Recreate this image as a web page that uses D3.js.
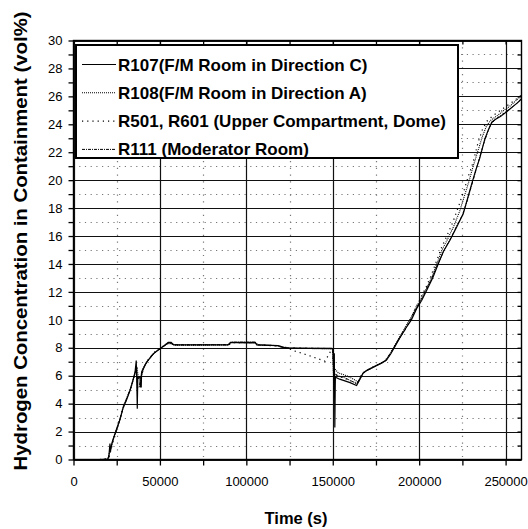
<!DOCTYPE html>
<html>
<head>
<meta charset="utf-8">
<script src="https://cdn.jsdelivr.net/npm/d3@7"></script>
<style>
  body { margin: 0; background: #fff; }
  svg { display: block; font-family: "Liberation Sans", Arial, sans-serif; }
</style>
</head>
<body>
<div class="canvas"></div>
<script>
// Series: [time (s), H2 concentration (vol%)]
const r107 = [
  [13400, 0], [19800, 0], [20500, 0.3], [21100, 1.15], [21400, 0.6], [22500, 1.3], [25000, 2.2],
  [27000, 2.9], [28800, 3.75], [30500, 4.2], [32700, 4.94], [34000, 5.5], [35600, 6.25], [36300, 7.09],
  [36600, 5.6], [36900, 3.63], [37200, 5.9], [38500, 5.9], [38600, 5.2], [39200, 5.2], [39400, 6.25],
  [42300, 6.97], [46200, 7.57], [50000, 7.93], [53000, 8.2], [54800, 8.38], [56500, 8.38], [58000, 8.2],
  [89500, 8.2], [90800, 8.38], [105200, 8.38], [106000, 8.2], [118300, 8.16], [120500, 8.05], [124000, 7.97],
  [149500, 7.95], [150300, 7.9], [150600, 6.0], [150900, 7.6], [151200, 2.3], [151500, 5.9], [154000, 5.75],
  [160000, 5.5], [163800, 5.3], [165500, 5.7], [167600, 6.2], [170000, 6.4], [174000, 6.65], [178000, 6.9],
  [181000, 7.1], [183500, 7.55], [186000, 8.1], [189000, 8.75], [192500, 9.45], [195500, 10.0], [198500, 10.8],
  [201500, 11.4], [204300, 12.1], [208000, 13.05], [211000, 14.0], [214000, 14.9], [217800, 15.7], [221500, 16.6],
  [225500, 17.6], [228000, 18.7], [230300, 19.7], [232700, 20.7], [235100, 21.6], [238000, 22.95], [240000, 23.6],
  [242000, 24.15], [244000, 24.35], [247000, 24.55], [250600, 24.9], [254000, 25.25], [257000, 25.55], [259200, 25.83],
];

const r108 = [
  [14500, 0], [20000, 0.05], [22000, 1.0], [24000, 1.9], [26500, 2.7], [29000, 3.9], [31000, 4.4],
  [33500, 5.3], [35500, 6.1], [36800, 6.5], [37600, 5.8], [38600, 5.8], [39800, 6.4], [42000, 6.9],
  [46000, 7.55], [50000, 7.95], [54000, 8.3], [57000, 8.3], [59000, 8.18], [89000, 8.2], [91000, 8.35],
  [106000, 8.3], [107000, 8.2], [118000, 8.15], [121000, 8.0], [150000, 7.9], [150700, 4.9], [151100, 6.5],
  [153200, 6.2], [158000, 6.0], [162000, 5.75], [164700, 5.55], [167600, 6.2], [170000, 6.4], [174000, 6.65],
  [178000, 6.9], [181000, 7.15], [183500, 7.6], [186000, 8.2], [189000, 8.85], [192000, 9.5], [195000, 10.1],
  [198000, 10.85], [201000, 11.5], [204000, 12.2], [207500, 13.1], [210500, 14.1], [213000, 14.95], [216500, 15.8],
  [220000, 16.7], [223500, 17.8], [226500, 19.0], [229000, 20.0], [231000, 20.9], [233500, 21.9], [236500, 23.1],
  [239000, 23.9], [241500, 24.3], [245000, 24.6], [249000, 25.0], [253000, 25.35], [256000, 25.7], [259200, 26.05],
];

const r501 = [
  [15000, 0], [20500, 0.1], [22500, 1.1], [25500, 2.3], [28000, 3.4], [30000, 4.1], [32000, 4.7],
  [34500, 5.7], [36000, 6.4], [37500, 5.9], [39000, 5.9], [40500, 6.6], [43500, 7.2], [47000, 7.7],
  [51000, 8.0], [55000, 8.35], [58500, 8.2], [90000, 8.22], [92000, 8.36], [105500, 8.36], [107500, 8.2],
  [119000, 8.12], [124000, 8.0], [127100, 7.8], [134900, 7.5], [145500, 7.04], [149000, 7.8], [150200, 7.9],
  [151000, 6.3], [152500, 6.0], [156000, 5.85], [160000, 5.65], [164200, 5.4], [166000, 5.95], [168500, 6.3],
  [173000, 6.6], [178500, 6.92], [182000, 7.3], [185000, 7.95], [188000, 8.55], [191500, 9.3], [194500, 9.9],
  [198000, 10.85], [201000, 11.6], [204000, 12.35], [207000, 13.2], [210000, 14.2], [213000, 15.2], [216000, 16.0],
  [219500, 17.0], [223000, 18.2], [226000, 19.3], [228500, 20.3], [231000, 21.2], [234100, 22.7], [236500, 23.6],
  [239000, 24.2], [242500, 24.6], [246500, 24.95], [250500, 25.3], [254500, 25.65], [259200, 26.1],
];

const r111 = [
  [14000, 0], [20000, 0], [21500, 0.9], [23500, 1.6], [26000, 2.5], [28500, 3.6], [31000, 4.5],
  [33500, 5.2], [35000, 5.9], [36500, 6.6], [37000, 5.1], [38000, 5.2], [39000, 5.8], [41000, 6.7],
  [44500, 7.3], [48500, 7.8], [52000, 8.1], [55500, 8.35], [58000, 8.22], [89500, 8.22], [91500, 8.4],
  [105000, 8.4], [106500, 8.22], [118500, 8.15], [123000, 8.0], [149800, 7.95], [150800, 5.0], [151600, 6.1],
  [153000, 6.0], [157000, 5.85], [161000, 5.6], [164000, 5.45], [166500, 6.0], [169000, 6.3], [175000, 6.7],
  [180000, 7.0], [184000, 7.75], [187500, 8.45], [191000, 9.1], [194000, 9.75], [197500, 10.6], [200500, 11.3],
  [203500, 12.0], [207000, 12.9], [210500, 13.9], [214500, 15.0], [218500, 15.9], [222000, 16.8], [225000, 17.5],
  [228000, 18.6], [231000, 19.9], [234000, 21.2], [237000, 22.5], [239500, 23.4], [241500, 24.0], [244500, 24.4],
  [248500, 24.75], [252500, 25.1], [256000, 25.45], [259200, 25.8],
];

const seriesNames = [
  "R107(F/M Room in Direction C)",
  "R108(F/M Room in Direction A)",
  "R501, R601 (Upper Compartment, Dome)",
  "R111 (Moderator Room)",
];

// Tick values
const xMajor = [0, 50000, 100000, 150000, 200000, 250000];
const xMinor = [25000, 75000, 125000, 175000, 225000];
const yMajor = [0, 2, 4, 6, 8, 10, 12, 14, 16, 18, 20, 22, 24, 26, 28, 30];
const yMinor = [1, 3, 5, 7, 9, 11, 13, 15, 17, 19, 21, 23, 25, 27, 29];
const xMax = 259200;

const dims = { width: 528, height: 529 };
const plot = { left: 73.5, right: 521.5, top: 40.5, bottom: 459.5 };

const svg = d3
  .select(".canvas")
  .append("svg")
  .attr("width", dims.width)
  .attr("height", dims.height);

svg.append("rect").attr("width", dims.width).attr("height", dims.height).attr("fill", "#fff");

const x = d3.scaleLinear().domain([0, xMax]).range([plot.left, plot.right]);
const y = d3.scaleLinear().domain([0, 30]).range([plot.bottom, plot.top]);

// Dotted minor grid
const grid = svg.append("g");
grid.selectAll(".hmin").data(yMinor).enter().append("line")
  .attr("x1", plot.left).attr("x2", plot.right)
  .attr("y1", (d) => Math.round(y(d)) + 0.5).attr("y2", (d) => Math.round(y(d)) + 0.5)
  .attr("stroke", "#777").attr("stroke-width", 1.2).attr("stroke-dasharray", "1.2,4.5");
grid.selectAll(".vmin").data(xMinor).enter().append("line")
  .attr("x1", (d) => Math.round(x(d)) + 0.5).attr("x2", (d) => Math.round(x(d)) + 0.5)
  .attr("y1", plot.top).attr("y2", plot.bottom)
  .attr("stroke", "#777").attr("stroke-width", 1.2).attr("stroke-dasharray", "1.2,5.5");

// Solid major grid
grid.selectAll(".hmaj").data(yMajor).enter().append("line")
  .attr("x1", plot.left).attr("x2", plot.right)
  .attr("y1", (d) => Math.round(y(d)) + 0.5).attr("y2", (d) => Math.round(y(d)) + 0.5)
  .attr("stroke", "#111").attr("stroke-width", 1.2);
grid.selectAll(".vmaj").data(xMajor).enter().append("line")
  .attr("x1", (d) => Math.round(x(d)) + 0.5).attr("x2", (d) => Math.round(x(d)) + 0.5)
  .attr("y1", plot.top).attr("y2", plot.bottom)
  .attr("stroke", "#111").attr("stroke-width", 1.2);

// Lines
const styles = [
  { data: r107, dash: null, w: 1.2 },
  { data: r108, dash: "1,1", w: 1.1 },
  { data: r501, dash: "1.2,4", w: 1.2 },
  { data: r111, dash: "3,1,1,1", w: 1.0 },
];

svg.append("clipPath").attr("id", "clip").append("rect")
  .attr("x", plot.left).attr("y", plot.top)
  .attr("width", plot.right - plot.left).attr("height", plot.bottom - plot.top);

const line = d3.line().x((d) => x(d[0])).y((d) => y(d[1]));

svg.append("g").attr("clip-path", "url(#clip)")
  .selectAll("path").data(styles).enter().append("path")
  .attr("d", (d) => line(d.data))
  .attr("fill", "none")
  .attr("stroke", "#000")
  .attr("stroke-width", (d) => d.w)
  .attr("stroke-dasharray", (d) => d.dash);

// Axes
const fmt = d3.format("d");
const xAxis = d3.axisBottom(x)
  .tickValues([...xMajor, ...xMinor])
  .tickFormat((d) => (xMajor.includes(d) ? fmt(d) : ""))
  .tickSize(6).tickPadding(11);
const yAxis = d3.axisLeft(y)
  .tickValues([...yMajor, ...yMinor])
  .tickFormat((d) => (yMajor.includes(d) ? fmt(d) : ""))
  .tickSize(5).tickPadding(6);

const gx = svg.append("g").attr("transform", `translate(0, ${plot.bottom})`).call(xAxis);
const gy = svg.append("g").attr("transform", `translate(${plot.left}, 0)`).call(yAxis);
const gxTop = svg.append("g").attr("transform", `translate(0, ${plot.top})`)
  .call(d3.axisBottom(x).tickValues([...xMajor, ...xMinor]).tickFormat("").tickSize(4));
const gyRight = svg.append("g").attr("transform", `translate(${plot.right}, 0)`)
  .call(d3.axisLeft(y).tickValues([...yMajor, ...yMinor]).tickFormat("").tickSize(4));

[gx, gy, gxTop, gyRight].forEach((g) => {
  g.select(".domain").remove();
  g.selectAll("line").attr("stroke", "#000").attr("stroke-width", 1.3);
  g.selectAll("text")
    .attr("fill", "#000")
    .style("font-family", '"Liberation Sans", Arial, sans-serif')
    .style("font-size", "13px");
});

// Frame
svg.append("rect")
  .attr("x", plot.left).attr("y", plot.top)
  .attr("width", plot.right - plot.left).attr("height", plot.bottom - plot.top)
  .attr("fill", "none").attr("stroke", "#000").attr("stroke-width", 1.4);

// Legend
const legend = svg.append("g").attr("transform", "translate(76, 45)");
legend.append("rect")
  .attr("width", 382).attr("height", 113)
  .attr("fill", "#fff").attr("stroke", "#000").attr("stroke-width", 2);

const items = legend.selectAll(".item").data(seriesNames).enter().append("g")
  .attr("transform", (d, i) => `translate(0, ${19.5 + i * 28.3})`);

items.append("line")
  .attr("x1", 6).attr("x2", 40).attr("y1", 0).attr("y2", 0)
  .attr("stroke", "#000")
  .attr("stroke-width", (d, i) => styles[i].w)
  .attr("stroke-dasharray", (d, i) => styles[i].dash);

items.append("text")
  .attr("x", 42).attr("y", 6)
  .style("font-size", "17px").style("font-weight", "bold")
  .text((d) => d);

// Axis titles
svg.append("text")
  .attr("x", 296).attr("y", 524)
  .attr("text-anchor", "middle")
  .style("font-size", "16.5px").style("font-weight", "bold")
  .text("Time (s)");

svg.append("text")
  .attr("transform", "translate(27, 241) rotate(-90)")
  .attr("text-anchor", "middle")
  .attr("textLength", 459).attr("lengthAdjust", "spacingAndGlyphs")
  .style("font-size", "19px").style("font-weight", "bold")
  .text("Hydrogen Concentration in Containment (vol%)");
</script>
</body>
</html>
